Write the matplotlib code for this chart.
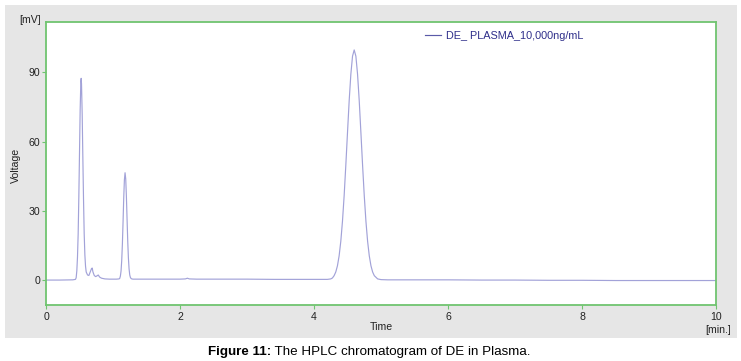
import matplotlib
matplotlib.use("Agg")
import matplotlib.pyplot as plt
from matplotlib.patches import Rectangle

# ---- data ----
time_min = [0.00, 0.20, 0.40, 0.44, 0.45, 0.46, 0.47, 0.48, 0.49, 0.50, 0.51, 0.52, 0.525,
            0.53, 0.54, 0.55, 0.56, 0.57, 0.58, 0.59, 0.60, 0.62, 0.64, 0.66, 0.68, 0.69,
            0.70, 0.72, 0.74, 0.76, 0.78, 0.80, 0.83, 0.88, 0.95, 1.05,
            1.09, 1.10, 1.11, 1.12, 1.13, 1.14, 1.15, 1.16, 1.17, 1.18, 1.19, 1.20, 1.21,
            1.22, 1.23, 1.24, 1.25, 1.26, 1.27, 1.28, 1.30,
            1.50, 1.80, 2.00, 2.08, 2.11, 2.14, 2.25, 2.60, 3.00, 3.40, 3.80, 4.10, 4.20,
            4.25, 4.275, 4.30, 4.325, 4.35, 4.375, 4.40, 4.425, 4.45, 4.475, 4.50, 4.525,
            4.55, 4.575, 4.60, 4.625, 4.65, 4.675, 4.70, 4.725, 4.75, 4.775, 4.80, 4.825,
            4.85, 4.875, 4.90, 4.95, 5.00, 5.10,
            5.50, 6.00, 6.50, 7.00, 7.50, 8.00, 8.50, 9.00, 9.50, 10.00]
signal_mv = [0.0, 0.0, 0.1, 0.3, 1.0, 4.0, 10.0, 20.0, 36.0, 55.0, 74.0, 86.0, 87.4,
             85.0, 72.0, 53.0, 35.0, 20.0, 11.0, 6.0, 3.5, 2.2, 2.0, 3.5, 5.0, 5.2,
             3.6, 2.0, 1.5, 1.8, 2.2, 1.3, 0.8, 0.5, 0.4, 0.4,
             0.5, 0.7, 1.7, 3.9, 8.4, 15.5, 25.1, 35.4, 43.4, 46.5, 43.8, 36.2, 26.3,
             16.8, 9.5, 4.8, 2.2, 1.1, 0.7, 0.5, 0.4,
             0.4, 0.4, 0.4, 0.5, 0.8, 0.5, 0.4, 0.4, 0.4, 0.3, 0.3, 0.3, 0.3,
             0.5, 0.9, 1.9, 3.5, 6.2, 10.5, 16.8, 25.5, 36.6, 49.8, 63.9, 77.7,
             89.2, 97.0, 99.7, 97.0, 89.2, 77.7, 63.9, 49.8, 36.6, 25.5, 16.8, 10.5,
             6.2, 3.5, 1.9, 0.5, 0.2, 0.1,
             0.1, 0.1, 0.0, 0.0, -0.1, -0.1, -0.2, -0.2, -0.2, -0.2]

x_ticks = [0, 2, 4, 6, 8, 10]
y_ticks = [0, 30, 60, 90]
series_label = "DE_ PLASMA_10,000ng/mL"
caption_bold = "Figure 11:"
caption_rest = " The HPLC chromatogram of DE in Plasma."

W, H = 741, 361
fig = plt.figure(figsize=(W / 100, H / 100), dpi=100, facecolor="white")

# grey chart panel
panel = Rectangle((5 / W, 1 - 338 / H), 732 / W, 333 / H,
                  transform=fig.transFigure, facecolor="#e6e6e6",
                  edgecolor="none", zorder=-10)
fig.add_artist(panel)

ax = fig.add_axes([46 / W, 1 - 305 / H, 670 / W, 283 / H])
ax.set_zorder(1)
ax.set_facecolor("white")
ax.plot(time_min, signal_mv, color="#a2a2d8", lw=0.85, label=series_label)
ax.set_xlim(0, 10)
ax.set_ylim(-10.8, 111.8)
ax.set_xticks(x_ticks)
ax.set_yticks(y_ticks)

font = "Liberation Sans"
fs = 7.6
green = "#70c470"
for s in ax.spines.values():
    s.set_color(green)
    s.set_linewidth(1.3)
ax.tick_params(axis="both", colors=green, length=3, width=0.8, labelcolor="#222222",
               labelsize=fs, direction="out")
ax.tick_params(axis="x", pad=2)
ax.tick_params(axis="y", pad=1)
for lab in ax.get_xticklabels() + ax.get_yticklabels():
    lab.set_fontfamily(font)

fig.text(381 / W, 1 - 327 / H, "Time", ha="center", va="center",
         fontsize=fs, family=font, color="#222222")
fig.text(718 / W, 1 - 330 / H, "[min.]", ha="center", va="center",
         fontsize=fs, family=font, color="#222222")
fig.text(30 / W, 1 - 20 / H, "[mV]", ha="center", va="center",
         fontsize=fs, family=font, color="#222222")
fig.text(16 / W, 1 - 165 / H, "Voltage", ha="center", va="center", rotation=90,
         fontsize=fs, family=font, color="#222222")

leg = ax.legend(loc="upper left", bbox_to_anchor=(0.553, 1.0), frameon=False,
                handlelength=1.5, handletextpad=0.4, borderaxespad=0.4,
                prop={"family": font, "size": 7.8})
for t in leg.get_texts():
    t.set_color("#2e2e8a")
leg.get_lines()[0].set_color("#5a5aa8")

# caption
t1 = fig.text(208 / W, 1 - 352 / H, caption_bold, ha="left", va="center",
              fontsize=9.6, family=font, fontweight="bold", color="black")
fig.canvas.draw()
bb = t1.get_window_extent()
fig.text(bb.x1 / W, 1 - 352 / H, caption_rest, ha="left", va="center",
         fontsize=9.6, family=font, color="black")

fig.savefig("out.png", dpi=100)
